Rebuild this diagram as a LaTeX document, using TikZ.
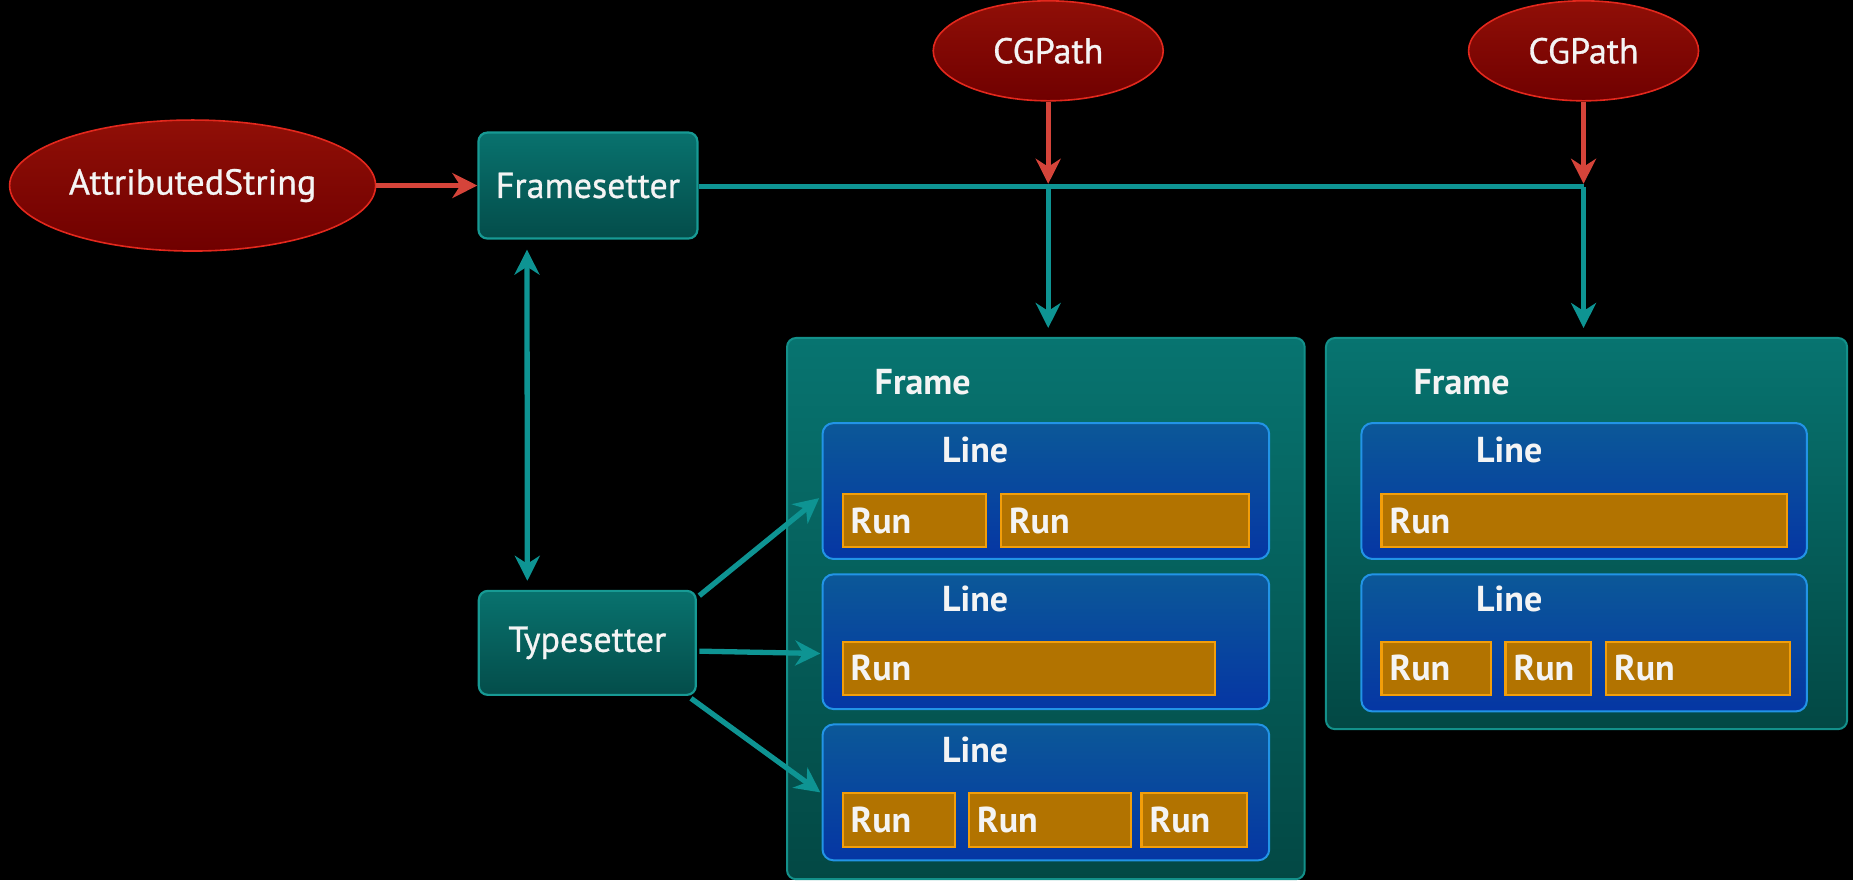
\documentclass[tikz,border=0pt]{standalone}
\usepackage{fontspec}
\setmainfont{PT Sans}
\newfontfamily\medfont{PT Sans}[FakeBold=0.8]
\usetikzlibrary{shapes.geometric,fit,calc,arrows.meta}
\definecolor{tealarrow}{HTML}{0E9493}
\definecolor{redarrow}{HTML}{D5443A}
\definecolor{boxtop}{HTML}{08726E}
\definecolor{boxbot}{HTML}{044D4A}
\definecolor{boxborder}{HTML}{179A94}
\definecolor{frametop}{HTML}{077470}
\definecolor{framebot}{HTML}{034844}
\definecolor{frameborder}{HTML}{13908A}
\definecolor{linetop}{HTML}{0B5898}
\definecolor{linebot}{HTML}{0536A4}
\definecolor{lineborder}{HTML}{2294E6}
\definecolor{runfill}{HTML}{B27300}
\definecolor{runborder}{HTML}{F29E0A}
\definecolor{elltop}{HTML}{900F07}
\definecolor{ellbot}{HTML}{700000}
\definecolor{ellborder}{HTML}{E3281D}
\definecolor{txtcol}{HTML}{F4F4F4}
\tikzset{
  mytip/.tip={Stealth[length=25pt,width=25pt,inset=8pt]},
  txt/.style={text=txtcol, font=\fontsize{36}{40}\medfont, inner sep=0pt},
  txtb/.style={text=txtcol, font=\fontsize{36}{40}\selectfont\bfseries, inner sep=0pt},
  redell/.style={ellipse, draw=ellborder, line width=1.6pt, top color=elltop, bottom color=ellbot, inner sep=0pt, txt},
  tbox/.style={draw=boxborder, line width=2.2pt, rounded corners=9pt, top color=boxtop, bottom color=boxbot, inner sep=0pt, txt},
  framebox/.style={draw=frameborder, line width=2pt, rounded corners=9pt, top color=frametop, bottom color=framebot, inner sep=0pt},
  linebox/.style={draw=lineborder, line width=2pt, rounded corners=11pt, top color=linetop, bottom color=linebot, inner sep=0pt},
  runlbl/.style={txtb, anchor=west, xshift=9pt},
  runbox/.style={draw=runborder, fill=runfill, line width=2.2pt, inner sep=0pt, label={[runlbl]west:Run}},
  tealarr/.style={draw=tealarrow, line width=5.3pt, -mytip},
  redarr/.style={draw=redarrow, line width=5.3pt, -mytip},
}
\begin{document}
\begin{tikzpicture}[x=1.1818pt,y=-1.1818pt]
\fill[black] (0,0) rectangle (1568,745);
\useasboundingbox (0,0) rectangle (1568,745);

% top-level nodes
\node[redell, minimum width=366pt, minimum height=131pt] (as) at (163,157) {AttributedString};
\node[redell, minimum width=230pt, minimum height=100pt] (cg1) at (887,43) {CGPath};
\node[redell, minimum width=230pt, minimum height=100pt] (cg2) at (1340,43) {CGPath};
\node[tbox, minimum width=219pt, minimum height=106pt] (fs) at (497.5,157) {Framesetter};
\node[tbox, minimum width=217pt, minimum height=104pt] (ts) at (497,544) {Typesetter};

% frames
\node[framebox, fit={(666,286) (1104,744)}] (f1) {};
\node[framebox, fit={(1122,286) (1563,617)}] (f2) {};
\node[txtb, anchor=west] (f1t) at (740,323) {Frame};
\node[txtb, anchor=west] (f2t) at (1196,323) {Frame};

% lines of frame 1
\node[linebox, fit={(696,358) (1074,473)}] (l11) {};
\node[linebox, fit={(696,486) (1074,600)}] (l12) {};
\node[linebox, fit={(696,613) (1074,728)}] (l13) {};
\node[txtb, anchor=west] (l11t) at (797,381) {Line};
\node[txtb, anchor=west] (l12t) at (797,507) {Line};
\node[txtb, anchor=west] (l13t) at (797,635) {Line};
% lines of frame 2
\node[linebox, fit={(1152,358) (1529,473)}] (l21) {};
\node[linebox, fit={(1152,486) (1529,602)}] (l22) {};
\node[txtb, anchor=west] (l21t) at (1249,381) {Line};
\node[txtb, anchor=west] (l22t) at (1249,507) {Line};

% runs
\node[runbox, fit={(713,418) (834,463)}] (r111) {};
\node[runbox, fit={(847,418) (1057,463)}] (r112) {};
\node[runbox, fit={(713,543) (1028,588)}] (r121) {};
\node[runbox, fit={(713,671) (808,717)}] (r131) {};
\node[runbox, fit={(820,671) (957,717)}] (r132) {};
\node[runbox, fit={(966,671) (1055,717)}] (r133) {};
\node[runbox, fit={(1169,418) (1512,463)}] (r211) {};
\node[runbox, fit={(1169,543) (1262,588)}] (r221) {};
\node[runbox, fit={(1274,543) (1346,588)}] (r222) {};
\node[runbox, fit={(1359,543) (1515,588)}] (r223) {};

% connectors
\coordinate (j1) at (887,158);
\coordinate (j2) at (1340,158);
\draw[redarr] (as.east) -- (fs.west);
\draw[draw=tealarrow, line width=5.3pt] (fs.east |- j1) -- (j2);
\draw[tealarr, shorten >=9pt] (j1) -- (j1 |- f1.north);
\draw[tealarr, shorten >=9pt] (j2) -- (j2 |- f2.north);
\draw[redarr] (cg1.south) -- ($(j1)+(0,-2.5)$);
\draw[redarr] (cg2.south) -- ($(j2)+(0,-2.5)$);
\draw[tealarr, mytip-mytip, shorten <=10pt, shorten >=9pt]
  ($(fs.south west)+(42,0)$) -- ($(ts.north west)+(42,0)$);
\draw[tealarr] ($(ts.north east)+(2,5)$) -- ($(l11.west)+(-2,6)$);
\draw[tealarr] ($(ts.east)+(2,7)$) -- ($(l12.west)+(-1,10)$);
\draw[tealarr] ($(ts.south east)+(-5,2)$) -- ($(l13.west)+(-1,0)$);
\end{tikzpicture}
\end{document}
